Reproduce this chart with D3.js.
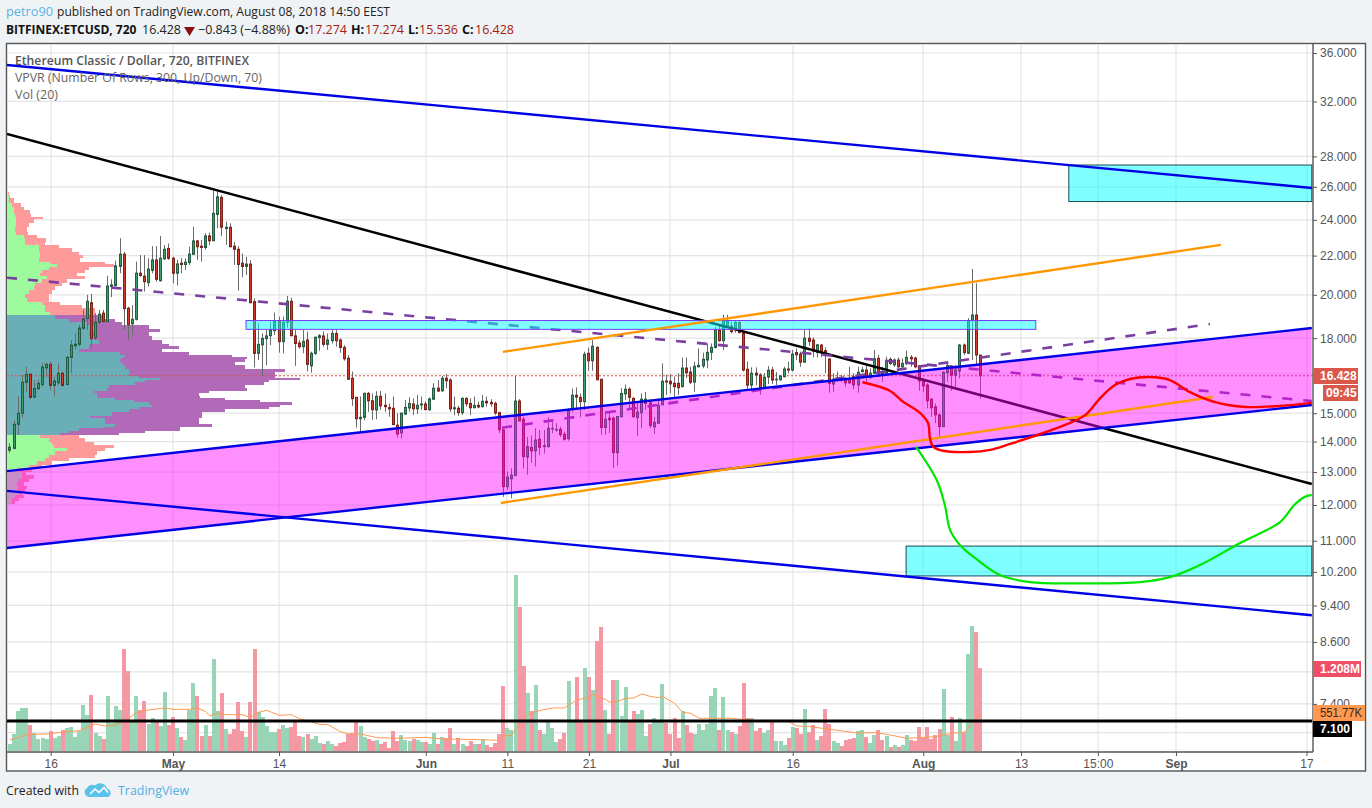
<!DOCTYPE html>
<html><head><meta charset="utf-8">
<style>html,body{margin:0;padding:0;background:#f0f3f6}svg{display:block}</style>
<script src="https://cdn.jsdelivr.net/npm/d3@7"></script>
</head><body><svg id="c" width="1372" height="808"></svg>
<script>
const opens=[13.71,13.77,14.60,15.0,16.17,16.49,15.6,15.92,16.08,16.75,
16.89,16.05,16.15,16.53,16.08,17.18,17.67,17.73,18.44,18.88,
19.62,18.02,18.71,19.13,18.74,20.41,20.46,21.43,22.08,19.36,
18.64,18.85,21.08,20.93,20.6,21.23,21.77,20.7,21.83,22.39,
21.86,21.08,21.6,21.53,21.63,22.07,22.8,22.51,22.44,23.08,
22.81,24.32,25.34,23.5,23.57,22.51,22.34,21.6,21.43,21.55,
19.67,17.35,17.71,17.98,18.11,18.33,18.77,17.85,18.71,19.69,
18.1,17.79,17.63,17.92,16.83,17.35,18.03,18.1,17.73,17.89,
18.21,17.92,17.6,17.14,16.33,15.59,14.8,14.85,15.74,15.46,
15.12,15.63,15.29,15.21,15.18,14.57,14.3,14.97,15.19,15.34,
15.16,15.3,15.34,15.13,15.52,15.94,15.84,16.33,16.26,15.16,
15.18,15.02,15.55,15.36,15.2,15.29,15.24,15.44,15.4,15.36,
15.02,14.4,12.55,12.79,12.89,15.45,14.78,13.48,13.8,13.69,
14.08,13.83,13.83,14.44,14.4,14.42,14.25,14.1,15.14,15.67,
15.59,15.43,17.35,17.04,17.6,16.29,14.49,14.82,14.82,13.63,
14.87,15.72,15.9,15.55,14.84,15.02,15.36,15.38,14.51,14.64,
15.31,16.22,16.21,16.13,16.13,16.0,16.74,16.58,16.18,16.79,
16.83,17.07,17.39,17.6,18.36,17.89,18.56,18.54,18.39,18.7,
18.24,16.69,16.06,16.53,16.46,15.95,16.38,16.66,16.27,16.27,
16.39,16.7,16.66,17.38,17.32,16.98,18.0,17.92,17.38,17.7,
17.46,17.11,16.1,16.32,16.34,16.3,16.3,16.39,16.07,16.6,
16.66,16.37,16.53,17.14,16.55,16.53,17.1,16.87,17.07,16.79,
16.93,17.18,17.15,16.82,16.23,16.06,15.52,15.23,14.93,14.52,
16.55,16.82,16.45,16.62,17.7,17.35,18.79,19.04,17.274];
const closes=[13.81,14.60,15.0,16.17,16.49,15.59,15.93,16.13,16.78,16.89,
16.05,16.22,16.53,16.05,17.18,17.7,17.74,18.45,18.85,19.69,
17.98,18.71,19.08,18.74,20.43,20.49,21.46,22.08,19.34,18.6,
18.85,21.08,20.96,20.65,21.29,21.77,20.77,21.86,22.34,21.86,
21.08,21.56,21.53,21.65,22.08,22.8,22.48,22.44,23.08,22.81,
24.38,25.38,23.57,23.57,22.48,22.34,21.53,21.43,21.55,19.62,
17.35,17.73,17.99,18.1,18.36,18.77,17.85,18.71,19.69,18.11,
17.77,17.63,17.86,16.89,17.35,18.04,18.11,17.73,17.92,18.21,
17.89,17.6,17.12,16.29,15.54,14.8,14.85,15.74,15.46,15.13,
15.63,15.27,15.24,15.16,14.59,14.26,15.0,15.21,15.36,15.16,
15.29,15.34,15.13,15.53,15.94,15.83,16.33,16.23,15.16,15.2,
15.02,15.55,15.35,15.2,15.29,15.23,15.44,15.38,15.35,15.01,
14.41,12.55,12.84,12.9,15.45,14.72,13.5,13.83,13.69,14.05,
13.81,13.86,14.46,14.46,14.42,14.24,14.08,15.12,15.67,15.6,
15.43,17.31,17.04,17.65,16.27,14.49,14.78,14.76,13.63,14.88,
15.74,15.9,15.59,14.87,15.04,15.52,15.52,14.56,14.67,15.29,
16.21,16.18,16.11,16.0,15.96,16.74,16.55,16.17,16.81,16.85,
17.1,17.39,17.6,18.36,17.89,18.77,18.78,18.29,18.7,18.25,
16.66,16.06,16.53,16.46,15.94,16.37,16.65,16.26,16.29,16.42,
16.7,16.66,17.32,17.29,16.98,18.0,17.86,17.44,17.71,17.38,
17.28,16.13,16.29,16.34,16.3,16.15,16.15,16.07,16.57,16.66,
16.37,16.53,17.12,16.53,16.5,17.02,16.93,17.07,16.79,16.93,
17.18,17.12,16.79,16.22,16.03,15.46,15.2,14.94,14.52,16.57,
16.85,16.45,16.66,17.7,17.38,18.79,19.04,17.28,16.428];
const highs=[13.94,14.75,15.64,16.46,16.79,16.5,16.26,16.29,16.96,16.96,
17.0,16.39,16.93,16.6,17.25,17.92,18.21,18.59,19.28,20.0,
20.05,19.13,19.28,19.28,20.94,20.77,21.73,22.95,22.2,19.43,
19.51,21.68,22.03,22.03,21.86,22.51,22.51,23.08,22.57,22.66,
21.94,21.77,21.86,21.86,22.48,23.6,22.85,22.85,23.23,23.27,
25.75,25.7,25.49,23.89,23.8,22.75,22.51,22.12,21.94,21.77,
19.83,18.67,18.21,18.36,18.74,19.16,18.97,18.97,19.95,19.86,
18.36,17.92,18.36,18.29,17.42,18.07,18.18,18.29,18.21,18.36,
18.36,17.99,17.7,17.28,16.6,15.6,15.62,15.77,15.8,15.74,
15.82,15.84,15.74,15.36,15.62,15.0,15.02,15.49,15.59,15.55,
15.68,15.62,15.43,15.58,16.13,16.26,16.42,16.49,16.33,15.62,
15.27,15.59,15.59,15.55,15.62,15.43,15.68,15.62,15.52,15.43,
15.05,14.46,13.01,13.12,16.42,15.52,14.87,14.16,14.2,14.46,
14.4,14.4,14.85,14.69,14.64,14.52,14.34,15.18,15.92,15.97,
15.74,17.42,17.59,17.92,17.65,16.3,15.08,15.08,14.87,14.9,
15.94,16.08,15.97,15.59,15.43,15.74,15.8,15.52,14.87,15.55,
16.93,16.46,16.5,16.4,16.53,17.17,17.18,16.79,17.0,17.56,
17.38,17.77,17.77,18.51,18.59,19.05,19.05,18.74,18.78,18.78,
18.29,17.0,16.77,16.77,16.53,16.53,16.82,16.79,16.58,16.46,
16.79,17.0,17.49,17.56,17.42,18.36,18.44,18.04,17.75,17.75,
17.6,17.14,16.53,16.6,16.46,16.39,16.79,16.53,16.79,16.79,
16.82,16.73,17.49,17.28,16.79,17.21,17.18,17.14,17.18,17.14,
17.46,17.28,17.21,16.86,16.33,16.13,15.55,15.36,15.0,16.6,
16.93,16.86,16.86,17.75,17.77,18.9,21.3,20.57,17.274];
const lows=[13.63,13.74,14.23,14.82,15.8,15.52,15.56,15.87,16.0,16.39,
15.87,15.62,16.06,16.0,16.06,16.53,17.49,17.63,18.36,18.36,
17.56,17.92,18.67,18.74,18.7,19.89,20.41,21.08,18.36,17.92,
18.14,18.79,20.9,20.16,20.41,21.08,20.65,20.65,21.77,21.77,
20.57,20.46,21.08,21.25,21.51,22.03,21.77,21.68,22.34,22.57,
22.8,23.52,23.08,22.57,22.45,21.51,20.2,20.87,20.99,19.6,
16.77,17.07,16.42,16.86,17.7,18.14,17.38,17.35,18.47,18.08,
16.83,17.55,17.35,16.6,16.55,17.28,17.46,17.63,17.49,17.77,
17.63,17.38,17.04,16.26,15.27,14.49,14.34,14.75,15.05,14.75,
14.78,15.12,15.05,14.87,14.58,14.13,14.1,14.93,15.05,14.93,
14.97,15.12,15.12,15.08,15.49,15.8,15.8,15.94,15.05,14.93,
14.9,14.93,15.24,14.93,15.18,15.18,15.21,15.24,15.24,14.93,
14.29,12.24,12.45,12.2,12.88,14.72,13.12,12.91,13.29,13.18,
13.55,13.6,13.8,14.29,14.34,14.16,14.03,14.03,15.05,15.12,
14.85,15.12,16.63,16.63,16.25,14.23,14.23,14.29,13.14,13.2,
14.85,15.49,15.18,14.85,14.2,14.46,15.12,14.46,14.26,14.62,
15.3,15.68,15.74,15.6,15.68,15.97,16.33,16.1,15.8,16.77,
16.73,16.73,17.07,17.56,17.85,17.49,18.51,18.21,18.24,18.2,
16.6,15.91,15.9,16.06,15.68,15.9,16.1,16.1,16.06,16.23,
16.37,16.53,16.6,17.07,16.79,16.98,17.66,17.18,17.18,17.18,
16.53,15.77,15.8,16.19,16.19,16.0,16.1,15.9,15.77,16.55,
16.19,16.29,16.5,16.39,16.19,16.5,16.86,16.79,16.73,16.66,
16.86,16.79,16.73,15.84,15.8,15.18,14.87,14.64,14.16,14.5,
16.19,15.84,16.0,16.33,17.28,17.32,17.07,16.9,15.536];
const volumes=[107,252,586,630,630,383,262,179,194,184,296,194,223,310,339,354,208,296,673,528,
819,266,223,179,804,412,659,601,1487,1168,455,804,601,732,397,485,441,368,862,383,
499,339,208,165,601,993,804,223,383,223,1342,586,848,325,252,325,717,296,208,717,
1487,572,499,368,281,281,325,383,339,354,426,223,208,252,179,223,121,107,150,107,
78,121,136,252,266,441,368,208,179,150,165,107,136,48,296,150,237,165,150,179,
165,136,136,107,266,107,208,194,339,107,194,107,78,150,107,107,179,92,63,121,
252,950,339,310,2563,2098,1240,848,586,964,310,252,426,339,136,179,266,1022,426,1080,
426,1211,1080,891,1604,1807,601,252,1037,1037,514,935,426,586,543,601,223,397,485,426,
979,412,252,485,194,586,383,266,252,397,310,397,804,920,310,790,310,281,252,368,
993,485,485,296,339,266,310,455,150,150,92,194,354,339,252,615,281,383,165,223,
615,397,150,121,78,165,179,194,296,310,208,121,237,310,165,223,63,92,63,92,
237,165,150,354,189,354,179,237,325,906,237,499,150,485,281,1415,1822,1735,1208];
const maBars=[0,2,4,9,12,17,19,21,23,26,29,31,34,38,40,44,46,48,49,51,53,57,59,61,63,66,69,71,76,78,81,83,86,90,95,102,106,112,120,121,123,125,127,129,133,136,139,142,143,146,147,149,151,153,155,157,159,160,163,165,167,169,173,177,183,191,193,196,200,204,208,212,215,220,223,227,231,234,236,238];
const maValues=[165,199,242,252,271,300,349,397,368,383,470,562,601,630,610,610,630,577,514,552,533,533,494,567,596,523,533,475,392,388,286,252,252,199,189,203,179,174,160,223,228,407,528,581,630,630,746,785,828,756,717,722,770,775,833,799,780,799,698,567,552,480,480,480,446,431,368,359,329,296,266,271,247,189,199,213,262,276,407,552];
// Volume profile rows: price at row top, up and down volume in relative units
const vpPrices=[25.70,25.49,25.28,25.02,24.78,24.58,24.34,24.18,24.03,23.80,23.57,23.32,23.13,22.95,22.75,22.57,22.39,22.20,22.03,21.86,21.68,21.56,21.39,21.25,21.08,20.94,20.77,20.57,20.41,20.24,20.05,19.83,19.67,19.51,19.36,19.20,
19.04,18.88,18.72,18.57,18.42,18.27,18.10,17.90,17.75,17.66,17.52,17.41,17.29,17.19,17.10,16.98,16.87,16.78,16.69,16.58,16.47,16.43,16.35,16.26,16.17,16.06,15.96,15.83,15.74,15.65,15.58,15.49,15.40,15.30,15.21,15.14,15.03,14.90,14.81,14.69,14.60,14.52,14.46,14.37,14.29,
14.22,14.12,14.00,13.87,13.78,13.67,13.56,13.45,13.34,13.24,13.13,13.00,12.90,12.79,12.69,12.58,12.47,12.39,12.29,12.20,12.11];
const vpUp=[1,2,2,5,7,7,8,9,9,9,8,9,17,18,18,32,32,33,33,32,43,50,42,35,33,40,35,28,27,22,18,20,35,38,38,43,
48,62,80,90,87,82,87,92,82,82,72,113,118,115,113,115,118,118,122,122,120,132,153,138,128,102,100,87,90,90,108,127,142,145,132,122,105,83,98,98,108,98,72,62,53,
33,42,45,47,60,48,42,38,30,22,10,15,15,12,10,11,10,12,8,5,4];
const vpDown=[1,1,5,9,10,16,16,27,18,13,12,12,13,21,20,20,33,39,43,41,55,57,40,43,37,38,25,27,21,23,24,22,18,37,50,45,
50,46,35,52,66,60,58,63,80,90,83,69,107,125,125,113,120,120,156,146,150,136,140,124,129,136,140,115,102,103,110,126,143,128,130,96,90,112,94,94,97,75,101,76,59,
39,36,42,60,38,42,46,24,15,13,15,4,12,10,7,9,8,3,9,7,4];
const vpEnd=12.02, vaHigh=19.05, vaLow=14.225;
const priceTicks=[36,32,28,26,24,22,20,18,15,14,13,12,11,10.2,9.4,8.6,7.4];
const hiddenGrid=[16.5,8,6.9];
const timeTickDates=["2018-04-16","2018-05-01","2018-05-14","2018-06-01","2018-06-11","2018-06-21","2018-07-01","2018-07-16","2018-08-01","2018-08-13","2018-08-22T10:00","2018-09-01","2018-09-17"];
const timeTickLabels=["16","May","14","Jun","11","21","Jul","16","Aug","13","15:00","Sep","17"];
const boldTicks=["May","Jun","Jul","Aug","Sep"];
// Drawing tools: bar number and price
const barEnds=[-0.72,319.3];
const topBlue=[34.97,25.93], lowBlue=[12.42,9.18], blackLine=[29.57,12.63], dashDown=[20.85,15.45];
const dashUpBars=[120.7,294.3], dashUp=[14.48,18.63];
const channelTop=[13.03,18.45], channelBottom=[10.81,15.30];
const orangeTopBars=[120.9,297], orangeTop=[17.41,22.58];
const orangeBotBars=[120.4,295], orangeBot=[12.06,15.60];
const redBars=[209.1,215.8,219,223.2,225.2,225.6,226.4,228.8,235.5,240.4,245.3,252.7,258.8,263.7,267.4,271,274.7,279.6,284.5,289.4,295.6,302.9,311.5,319.3];
const redPrices=[16.17,15.84,15.43,15.01,14.64,14.16,13.83,13.69,13.65,13.72,13.92,14.26,14.58,14.93,15.56,16.06,16.30,16.38,16.26,15.79,15.41,15.23,15.27,15.38];
const greenBars=[222.2,227.3,229.3,230.6,233,236.7,242.8,250.2,262.4,277.2,284.5,291.9,301.7,311.5,315,317.4,319.3];
const greenPrices=[13.83,12.75,12,11.29,10.89,10.55,10.12,9.95,9.92,9.95,10.07,10.37,10.94,11.51,12.0,12.23,12.3];
const zones=[{b0:57.9,b1:251.6,p0:18.79,p1:18.39,s:"#7a3df0"},{b0:259.7,b1:319.3,p0:27.42,p1:25.09,s:"#1a4a55"},{b0:219.8,b1:319.3,p0:10.86,p1:10.10,s:"#1a4a55"}];
const lastPrice=16.428, hLevel=7.1, lastVol=1208, lastMA=551.77;

const svg=d3.select("#c");
const day0=Date.UTC(2018,3,11);
const dateOf=i=>new Date(day0+i*12*3600e3);
const x=d3.scaleUtc().domain([new Date("2018-04-16T00:00Z"),new Date("2018-09-17T00:00Z")]).range([50.7,1306.5]);
const xb=i=>x(dateOf(i));
const y=d3.scaleLog().domain([12,36]).range([505,53]);
const yv=d3.scaleLinear().domain([0,lastVol]).range([751.3,668.2]);
const xvp=d3.scaleLinear().domain([0,300]).range([7.3,307.3]);
const L={left:7,right:1313,top:44,bottom:752};
const FONT="Liberation Sans, Arial, sans-serif", UI="'Open Sans', sans-serif";

svg.append("rect").attr("x",6.5).attr("y",43.5).attr("width",1359).attr("height",727.5).attr("fill","#fff").attr("stroke","#555").attr("stroke-width",1.4);
svg.append("defs").append("clipPath").attr("id","pane").append("rect").attr("x",L.left).attr("y",L.top).attr("width",L.right-L.left).attr("height",L.bottom-L.top);
const pane=svg.append("g").attr("clip-path","url(#pane)");

// grid
const grid=pane.append("g").attr("stroke","#e4e4e4").attr("stroke-width",1.2);
priceTicks.concat(hiddenGrid).forEach(p=>grid.append("line").attr("x1",L.left).attr("x2",L.right).attr("y1",y(p)).attr("y2",y(p)));
timeTickDates.forEach(d=>{const X=Math.round(x(new Date(d+(d.length>10?"Z":"T00:00Z"))));grid.append("line").attr("x1",X).attr("x2",X).attr("y1",L.top).attr("y2",L.bottom);});

// volume profile
const vp=pane.append("g").attr("shape-rendering","crispEdges");
vpPrices.forEach((p,i)=>{
  const next=i<vpPrices.length-1?vpPrices[i+1]:vpEnd;
  const inVA=p<=vaHigh&&p>vaLow;
  const y0=y(p),h=y(next)-y0;
  vp.append("rect").attr("x",xvp(0)).attr("y",y0).attr("height",h).attr("width",xvp(vpUp[i])-xvp(0)).attr("fill",inVA?"#6aafb8":"#9dfa9d");
  vp.append("rect").attr("x",xvp(vpUp[i])).attr("y",y0).attr("height",h).attr("width",xvp(vpDown[i])-xvp(0)).attr("fill",inVA?"#b06ab8":"#ff9a9a");
});

// volume
const vol=pane.append("g").attr("shape-rendering","crispEdges");
volumes.forEach((v,i)=>{
  const X=xb(i),up=closes[i]>=opens[i];
  const x0=Math.round(X-2);
  vol.append("rect").attr("x",x0).attr("width",Math.round(X+2)-x0).attr("y",yv(v)).attr("height",yv(0)-yv(v)).attr("fill",up?"#98d4b6":"#f498a3");
});
pane.append("path").datum(maBars.map((b,i)=>[b,maValues[i]])).attr("d",d3.line().x(d=>xb(d[0])).y(d=>yv(d[1]))).attr("fill","none").attr("stroke","#ff9a50").attr("stroke-width",1);

// last price dotted
pane.append("line").attr("x1",L.left).attr("x2",L.right).attr("y1",y(lastPrice)).attr("y2",y(lastPrice)).attr("stroke","#d9534f").attr("stroke-width",1).attr("stroke-dasharray","2 2");

// candles
const cg=pane.append("g");
opens.forEach((o,i)=>{
  const c=closes[i],up=c>=o,cx=Math.round(xb(i)-0.5)+0.5;
  cg.append("line").attr("x1",cx).attr("x2",cx).attr("y1",y(highs[i])).attr("y2",y(lows[i])).attr("stroke","#6b6b6b").attr("stroke-width",1);
  const t=Math.min(y(o),y(c)),b=Math.max(y(o),y(c));
  cg.append("rect").attr("x",cx-1).attr("width",2).attr("y",t).attr("height",Math.max(b-t,0.6)).attr("fill",up?"#3f9c6c":"#d63a28").attr("stroke",up?"#235c40":"#7d2016").attr("stroke-width",1);
});

const line2=(g,bars,vals,stroke,w,dash)=>g.append("path").datum(bars.map((b,i)=>[b,vals[i]])).attr("d",d3.line().x(d=>xb(d[0])).y(d=>y(d[1]))).attr("fill","none").attr("stroke",stroke).attr("stroke-width",w).attr("stroke-dasharray",dash||null);
line2(pane,barEnds,blackLine,"#000",2.5);
line2(pane,barEnds,dashDown,"#7b3fa0",2.6,"10 11");
line2(pane,dashUpBars,dashUp,"#7b3fa0",2.6,"10 11");
zones.forEach(z=>pane.append("rect").attr("x",xb(z.b0)).attr("width",xb(z.b1)-xb(z.b0)).attr("y",y(z.p0)).attr("height",y(z.p1)-y(z.p0)).attr("fill","#00ffff").attr("fill-opacity",.5).attr("stroke",z.s).attr("stroke-width",1));
pane.append("path").datum(barEnds.map((b,i)=>({b,t:channelTop[i],l:channelBottom[i]}))).attr("d",d3.area().x(d=>xb(d.b)).y0(d=>y(d.l)).y1(d=>y(d.t))).attr("fill","#ff00ff").attr("fill-opacity",.44);
line2(pane,barEnds,channelTop,"#0000e6",2.4);
line2(pane,barEnds,channelBottom,"#0000e6",2.4);
line2(pane,barEnds,topBlue,"#0000e6",2.4);
line2(pane,barEnds,lowBlue,"#0000e6",2.4);
line2(pane,orangeTopBars,orangeTop,"#ff9800",2.4);
line2(pane,orangeBotBars,orangeBot,"#ff9800",2.4);
pane.append("path").datum(redBars.map((b,i)=>[b,redPrices[i]])).attr("d",d3.line().x(d=>xb(d[0])).y(d=>y(d[1])).curve(d3.curveCatmullRom)).attr("fill","none").attr("stroke","#ff0000").attr("stroke-width",2.4);
pane.append("path").datum(greenBars.map((b,i)=>[b,greenPrices[i]])).attr("d",d3.line().x(d=>xb(d[0])).y(d=>y(d[1])).curve(d3.curveCatmullRom)).attr("fill","none").attr("stroke","#00e600").attr("stroke-width",2.2);
pane.append("line").attr("x1",L.left).attr("x2",L.right-1).attr("y1",y(hLevel)).attr("y2",y(hLevel)).attr("stroke","#000").attr("stroke-width",3);

// axes
const ay=d3.axisRight(y).tickValues(priceTicks).tickSize(4).tickPadding(3).tickFormat(d3.format(".3f"));
const gy=svg.append("g").attr("transform",`translate(${L.right},0)`).call(ay);
gy.select(".domain").attr("stroke","#555").attr("stroke-width",1.4).attr("d",`M0,${L.top}V${L.bottom}`);
gy.selectAll("line").attr("stroke","#555");
gy.selectAll("text").attr("font-family",FONT).attr("font-size",12).attr("fill","#555");
const tickDates=timeTickDates.map(d=>new Date(d+(d.length>10?"Z":"T00:00Z")));
const ax=d3.axisBottom(x).tickValues(tickDates).tickSize(4).tickPadding(3).tickFormat((d,i)=>timeTickLabels[i]);
const gx=svg.append("g").attr("transform",`translate(0,${L.bottom})`).call(ax);
gx.select(".domain").attr("stroke","#555").attr("stroke-width",1.4).attr("d",`M${L.left},0H${L.right}`);
gx.selectAll("line").attr("stroke","#555");
gx.selectAll("text").attr("font-family",FONT).attr("font-size",12).attr("fill","#555").attr("font-weight",(d,i)=>boldTicks.includes(timeTickLabels[i])?"bold":"normal");

// right-hand labels
const tag=(txt,x0,x1,y0,y1,bg,fg,anchorX,bold,len)=>{
  svg.append("rect").attr("x",x0).attr("y",y0).attr("width",x1-x0).attr("height",y1-y0).attr("fill",bg);
  const t=svg.append("text").attr("x",anchorX).attr("y",(y0+y1)/2+4.3).attr("font-family",FONT).attr("font-size",12).attr("font-weight",bold?"bold":"normal").attr("fill",fg).text(txt);
  if(len)t.attr("textLength",len).attr("lengthAdjust","spacingAndGlyphs");
};
tag(d3.format(".3f")(lastPrice),1313,1358,368,384,"#d9584a","#fff",1320,true);
tag("09:45",1323,1358,385,401,"#d9584a","#fff",1326,true);
tag("1.208M",1313,1361,661,677,"#ef5066","#fff",1320,true);
tag("551.77K",1313,1365,705,721,"#ff9850","#3a2a1a",1320,false,42);
tag(d3.format(".3f")(hLevel),1313,1352,721,737,"#000","#fff",1320,true);

// text helper: the reference font is a little narrower than Open Sans, so the widths are set
const H=(t,xx,yy,col,w,size,len)=>{
  const e=svg.append("text").attr("x",xx).attr("y",yy).attr("font-family",UI).attr("font-size",size||12.5).attr("font-weight",w||400).attr("fill",col||"#222").text(t);
  if(len)e.attr("textLength",len).attr("lengthAdjust","spacingAndGlyphs");
  return e;
};
// legends
H("Ethereum Classic / Dollar, 720, BITFINEX",15,65,"#555",600,13,234);
H("VPVR (Number Of Rows, 300, Up/Down, 70)",15,82,"#666",400,13,247);
H("Vol (20)",15,99,"#666",400,13,43);
// header
H("petro90",6,16,"#5bb4e5",400,13,47);
H("published on TradingView.com, August 08, 2018 14:50 EEST",57,16,"#222",400,13,333);
H("BITFINEX:ETCUSD, 720",6,34,"#111",700,12);
H("16.428",142,34,"#222",400,13,39);
svg.append("path").attr("d","M184,27H195L189.5,36Z").attr("fill","#8e0f0f");
H("−0.843 (−4.88%)",198,34,"#222",400,13,92);
const ohlc=[["O:",295,"17.274",308],["H:",351,"17.274",365],["L:",408,"15.536",419],["C:",462,"16.428",475]];
ohlc.forEach(r=>{H(r[0],r[1],34,"#111",700,12.5);H(r[2],r[3],34,"#a61c12",400,13,39);});

// footer
H("Created with",6,795,"#222",400,13,73);
const lg=svg.append("g");
lg.append("path").attr("d","M88,797a5,5 0 0 1 -1,-9a5.5,5.5 0 0 1 8,-2.5a7,7 0 0 1 12,3a4.5,4.5 0 0 1 1,8.5Z").attr("fill","#5cc2ea");
lg.append("path").attr("d","M90,794l5,-5l4,3.5l5,-5l4,5").attr("fill","none").attr("stroke","#fff").attr("stroke-width",1.6);
H("TradingView",118,795,"#4fb0e3",400,13,71);
</script></body></html>
